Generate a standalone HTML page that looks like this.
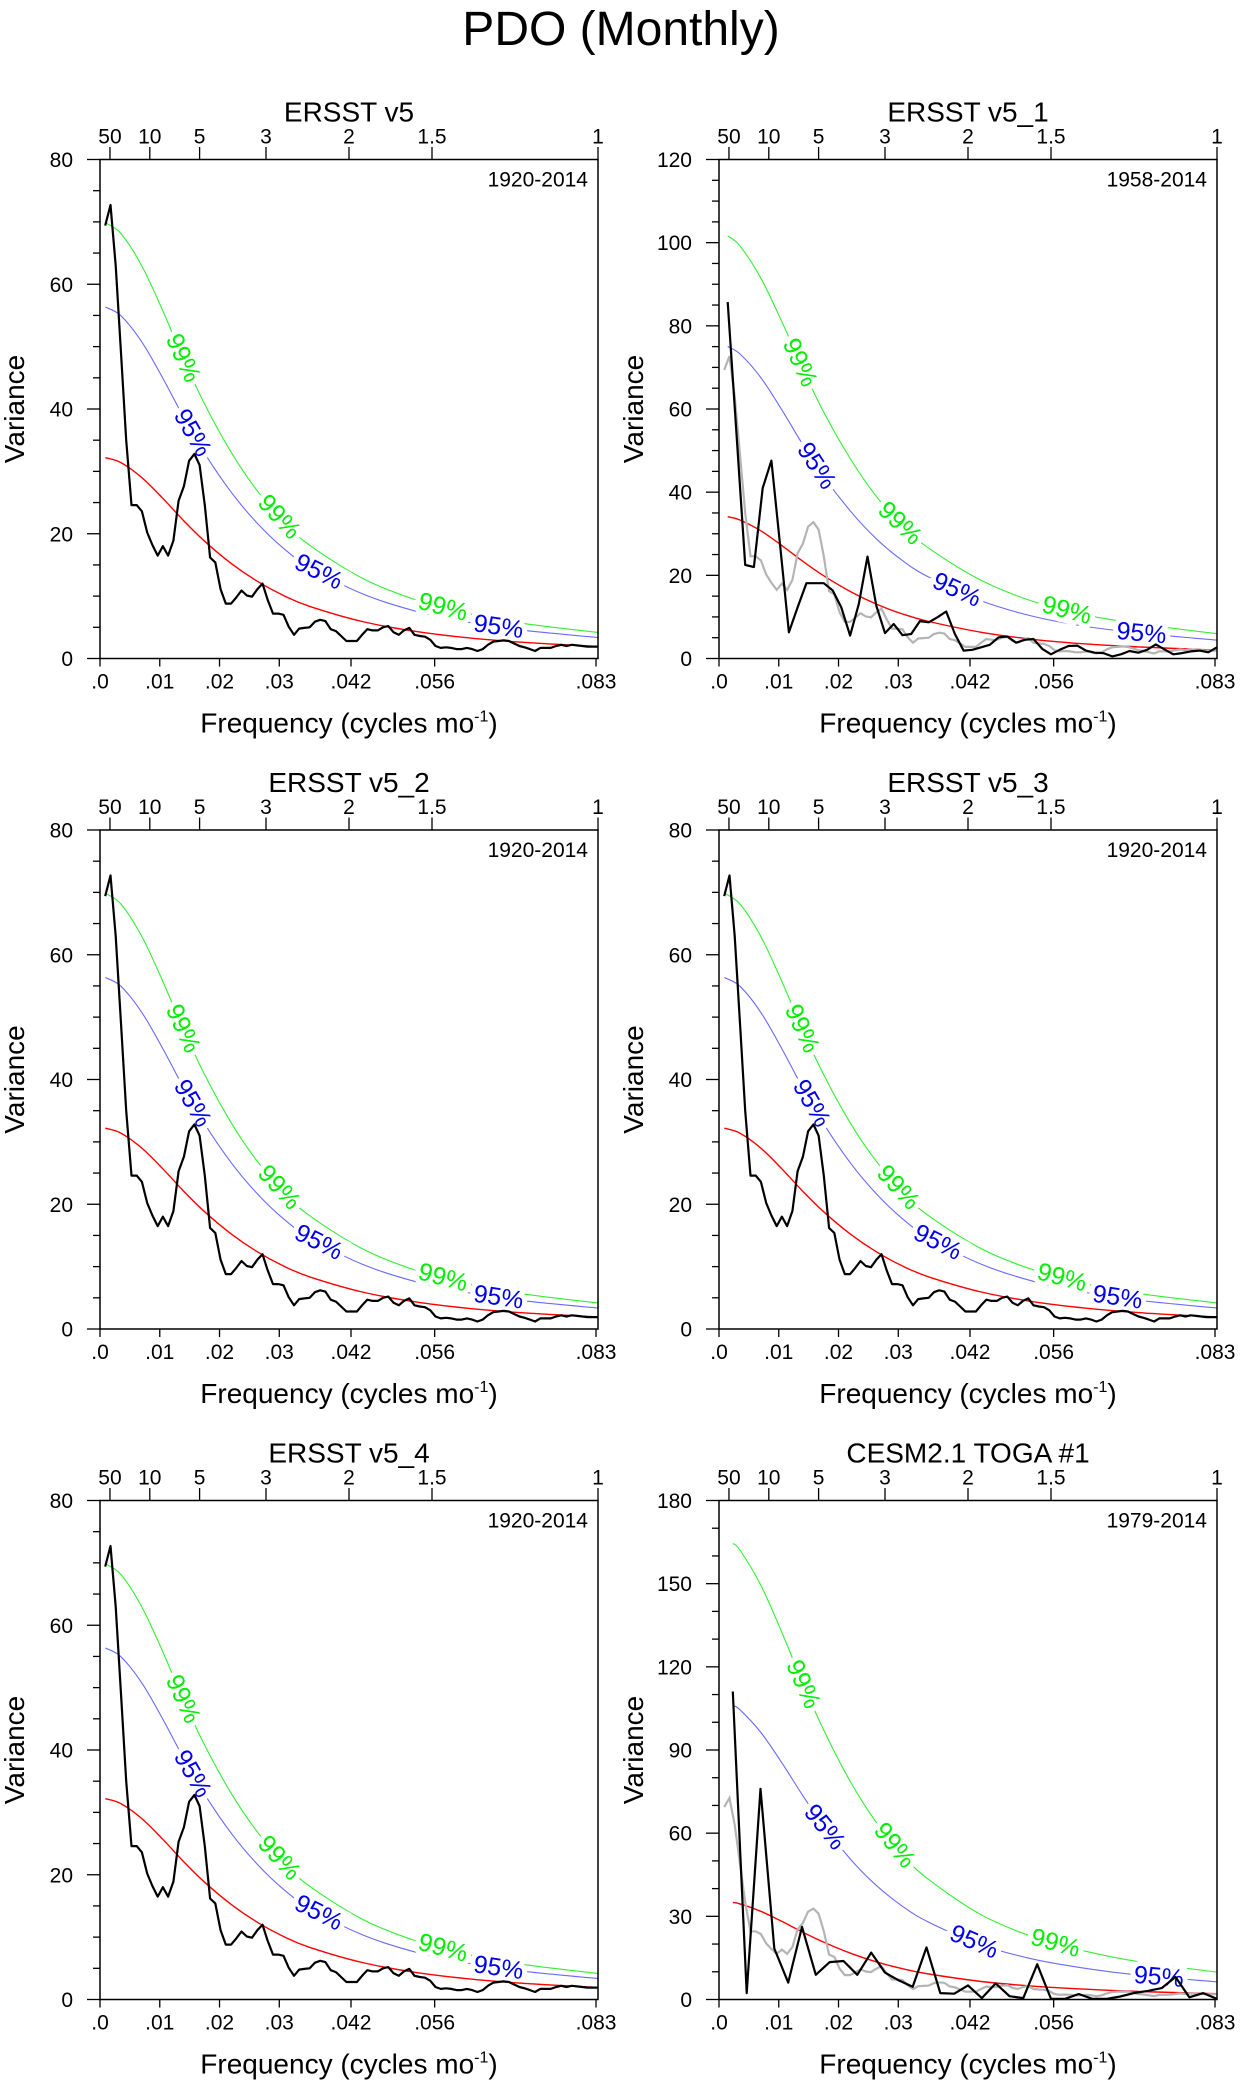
<!DOCTYPE html>
<html><head><meta charset="utf-8"><style>
html,body{margin:0;padding:0;background:#fff;}
svg{display:block;font-family:"Liberation Sans",Arial,sans-serif;}
</style></head><body>
<svg id="fig" width="1244" height="2086" viewBox="0 0 1244 2086">
<text x="621" y="45" text-anchor="middle" font-size="48">PDO (Monthly)</text>
</svg>
<script>
// ---- data ----
const ERSST_VALUES = [69.4,72.7,63,49,35,24.6,24.6,23.6,20.2,18.2,16.5,18.0,16.5,18.9,25.3,27.6,31.7,32.8,31,24.6,16.2,15.4,11.1,8.8,8.8,9.8,10.9,10.1,9.9,11.1,12.0,9.4,7.2,7.2,7.0,5.1,3.8,4.8,4.9,5.0,5.9,6.2,6.0,4.7,4.4,3.6,2.8,2.8,2.8,3.8,4.7,4.5,4.5,5.0,5.2,4.2,3.8,4.5,4.9,3.8,3.6,3.5,3.0,2.0,1.7,1.8,1.7,1.5,1.5,1.7,1.5,1.2,1.5,2.2,2.7,2.8,2.9,2.8,2.4,2.0,1.8,1.5,1.2,1.7,1.7,1.7,2.0,2.2,2.0,2.2,2.1,2.0,1.9,1.9,1.9];
const V51_VALUES = [85.7,54.0,22.5,22.0,41.0,47.6,27.0,6.3,12.3,18.1,18.1,18.1,16.4,12.3,5.5,13.1,24.5,12.7,6.1,8.3,5.6,5.9,9.0,8.7,9.9,11.3,5.9,1.9,2.1,2.7,3.3,5.1,5.3,3.8,4.5,4.7,2.3,1.0,2.1,3.0,3.1,1.9,1.4,1.3,0.5,1.0,1.8,1.4,2.1,3.4,2.2,1.0,1.3,1.7,1.9,1.5,2.7];
const TOGA_VALUES = [111.1,2.3,76.0,18.4,6.1,26.2,8.9,13.5,13.9,8.9,16.9,9.7,6.9,4.6,18.8,2.3,2.1,5.1,0.5,5.8,1.2,0.5,12.7,0.2,0.2,2.0,0.2,0.2,1.1,2.3,3.1,4.1,8.1,0.8,2.3,0.2];
const RED_FREQ_1920 = [0.00088,0.0035,0.007,0.0105,0.014,0.0175,0.022,0.0263,0.0307,0.0351,0.0439,0.0526,0.0614,0.0702,0.0833];
const RED_FREQ_1958 = [0.00146,0.0035,0.007,0.0105,0.014,0.0175,0.022,0.0263,0.0307,0.0351,0.0439,0.0526,0.0614,0.0702,0.0833];
const RED_FREQ_1979 = [0.00231,0.0035,0.007,0.0105,0.014,0.0175,0.022,0.0263,0.0307,0.0351,0.0439,0.0526,0.0614,0.0702,0.0833];
const RED_1920 = [32.2,31.4,29.0,25.7,22.1,18.8,15.2,12.4,10.1,8.36,5.93,4.37,3.34,2.63,1.92];
const RED_1958 = [34.1,33.3,30.7,27.2,23.4,19.9,16.1,13.1,10.7,8.9,6.3,4.6,3.5,2.8,2.0];
const RED_1979 = [35.0,34.5,31.8,28.2,24.3,20.7,16.7,13.6,11.1,9.2,6.5,4.8,3.7,2.9,2.1];
const SIG95_FACTOR = [1.75,2.2,3.03];
const SIG99_FACTOR = [2.17,2.98,4.7];
const LABEL99_FREQ = [[0.0139,0.030,0.0574],[0.01355,0.0303,0.0582],[0.0141,0.0294,0.0563]];
const LABEL95_FREQ = [[0.0155,0.0366,0.0667],[0.01634,0.0398,0.0707],[0.0177,0.0427,0.0736]];
const X_TICK_VALUES = [0,0.01,0.02,0.03,0.042,0.056,0.083];
const X_TICK_LABELS = [".0",".01",".02",".03",".042",".056",".083"];
const PERIOD_TICKS = [50,10,5,3,2,1.5,1];

const NS = "http://www.w3.org/2000/svg";
const svg = document.getElementById('fig');
const XMAX = 1/12;
const PW = 498, PH = 499;
const COLX = [100, 719];
const ROWY = [159.5, 830, 1500.5];
const TFS = 21;

const panels = [
 {title:"ERSST v5", yrs:"1920-2014", c:0, r:0, ymax:80, maj:20, min:5, main:ERSST_VALUES, n:95, gray:false, red:RED_1920, rf:RED_FREQ_1920, s:0},
 {title:"ERSST v5_1", yrs:"1958-2014", c:1, r:0, ymax:120, maj:20, min:5, main:V51_VALUES, n:57, gray:true, red:RED_1958, rf:RED_FREQ_1958, s:1},
 {title:"ERSST v5_2", yrs:"1920-2014", c:0, r:1, ymax:80, maj:20, min:5, main:ERSST_VALUES, n:95, gray:false, red:RED_1920, rf:RED_FREQ_1920, s:0},
 {title:"ERSST v5_3", yrs:"1920-2014", c:1, r:1, ymax:80, maj:20, min:5, main:ERSST_VALUES, n:95, gray:false, red:RED_1920, rf:RED_FREQ_1920, s:0},
 {title:"ERSST v5_4", yrs:"1920-2014", c:0, r:2, ymax:80, maj:20, min:5, main:ERSST_VALUES, n:95, gray:false, red:RED_1920, rf:RED_FREQ_1920, s:0},
 {title:"CESM2.1 TOGA #1", yrs:"1979-2014", c:1, r:2, ymax:180, maj:30, min:10, main:TOGA_VALUES, n:36, gray:true, red:RED_1979, rf:RED_FREQ_1979, s:2}
];

function mk(tag, attrs, parent){
  const e = document.createElementNS(NS, tag);
  for (const k in attrs) e.setAttribute(k, attrs[k]);
  (parent||svg).appendChild(e);
  return e;
}
function interp(fs, vs, f){
  if (f <= fs[0]) return vs[0];
  for (let i=1;i<fs.length;i++){ if (f <= fs[i]){ const t=(f-fs[i-1])/(fs[i]-fs[i-1]); return vs[i-1]+t*(vs[i]-vs[i-1]); } }
  return vs[vs.length-1];
}
function smoothPath(pts){
  let d = 'M'+pts[0][0].toFixed(1)+','+pts[0][1].toFixed(1);
  for (let i=0;i<pts.length-1;i++){
    const p0 = pts[Math.max(0,i-1)], p1 = pts[i], p2 = pts[i+1], p3 = pts[Math.min(pts.length-1,i+2)];
    const c1x = p1[0]+(p2[0]-p0[0])/6, c1y = p1[1]+(p2[1]-p0[1])/6;
    const c2x = p2[0]-(p3[0]-p1[0])/6, c2y = p2[1]-(p3[1]-p1[1])/6;
    d += ' C'+c1x.toFixed(1)+','+c1y.toFixed(1)+' '+c2x.toFixed(1)+','+c2y.toFixed(1)+' '+p2[0].toFixed(1)+','+p2[1].toFixed(1);
  }
  return d;
}

panels.forEach((p, pi) => {
  const L = COLX[p.c], T = ROWY[p.r], B = T+PH, R = L+PW;
  const X = f => L + f/XMAX*PW;
  const Y = v => B - v/p.ymax*PH;
  const g = mk('g', {});
  
  

  const title = mk('text', {x:L+PW/2, y:T-38, 'text-anchor':'middle', 'font-size':28}, g);
  title.textContent = p.title;
  
  

  const redP = p.rf.map((f,i)=>[X(f), Y(p.red[i])]);
  const b95P = p.rf.map((f,i)=>[X(f), Y(p.red[i]*SIG95_FACTOR[p.s])]);
  const g99P = p.rf.map((f,i)=>[X(f), Y(p.red[i]*SIG99_FACTOR[p.s])]);
  const l99 = mk('path', {d:smoothPath(g99P), fill:'none', stroke:'#33ee33', 'stroke-width':1.1}, g);
  
  
  const l95 = mk('path', {d:smoothPath(b95P), fill:'none', stroke:'#6a6aff', 'stroke-width':1.1}, g);
  
  

  function label(f, fac, txt, col, nm){
    const x = X(f), y = Y(interp(p.rf,p.red,f)*fac);
    const x2 = X(f+0.001), y2 = Y(interp(p.rf,p.red,f+0.001)*fac);
    const ang = Math.atan2(y2-y, x2-x)*180/Math.PI;
    const t = mk('text', {x:x, y:y, 'text-anchor':'middle', 'dominant-baseline':'central', 'font-size':25, fill:col, stroke:'#fff', 'stroke-width':10, 'paint-order':'stroke', transform:'rotate('+ang.toFixed(1)+' '+x.toFixed(1)+' '+y.toFixed(1)+')'}, g);
    t.textContent = txt;
    
    
  }
  LABEL99_FREQ[p.s].forEach(f => label(f, SIG99_FACTOR[p.s], '99%', '#00ee00', 'sig99-label'));
  LABEL95_FREQ[p.s].forEach(f => label(f, SIG95_FACTOR[p.s], '95%', '#0000ee', 'sig95-label'));

  const lr = mk('path', {d:smoothPath(redP), fill:'none', stroke:'#ff0000', 'stroke-width':1.4}, g);
  
  

  if (p.gray){
    const gp = ERSST_VALUES.map((v,i)=>X((i+1)/(12*95)).toFixed(1)+','+Y(v).toFixed(1)).join(' ');
    const lg = mk('polyline', {points:gp, fill:'none', stroke:'#b4b4b4', 'stroke-width':2.2}, g);
    
    
  }
  const mp = p.main.map((v,i)=>X((i+1)/(12*p.n)).toFixed(1)+','+Y(v).toFixed(1)).join(' ');
  const lm = mk('polyline', {points:mp, fill:'none', stroke:'#000', 'stroke-width':2.2, 'stroke-linejoin':'round'}, g);
  
  

  const fr = mk('rect', {x:L, y:T, width:PW, height:PH, fill:'none', stroke:'#000', 'stroke-width':1.5}, g);
  
  

  for (let v=0; v<=p.ymax+1e-9; v+=p.min){
    const isMaj = Math.abs(v/p.maj - Math.round(v/p.maj)) < 1e-6;
    const tk = mk('line', {x1:L, x2:L-(isMaj?13:7), y1:Y(v), y2:Y(v), stroke:'#000', 'stroke-width':1.3}, g);
    
    
    if (isMaj){
      const tl = mk('text', {x:L-27, y:Y(v)+7.5, 'text-anchor':'end', 'font-size':TFS}, g);
      tl.textContent = String(v);
      
      
    }
  }
  X_TICK_VALUES.forEach((f,i) => {
    const fx = Math.min(X(f), R);
    const tk = mk('line', {x1:fx, x2:fx, y1:B, y2:B+8, stroke:'#000', 'stroke-width':1.3}, g);
    
    
    const tl = mk('text', {x:fx, y:B+30, 'text-anchor':'middle', 'font-size':TFS}, g);
    tl.textContent = X_TICK_LABELS[i];
    
    
  });
  PERIOD_TICKS.forEach(P => {
    const fx = X(1/(12*P));
    const tk = mk('line', {x1:fx, x2:fx, y1:T, y2:T-12.5, stroke:'#000', 'stroke-width':1.3}, g);
    
    
    const tl = mk('text', {x:fx, y:T-16, 'text-anchor':'middle', 'font-size':TFS}, g);
    tl.textContent = String(P);
    
    
  });
  const yr = mk('text', {x:R-10, y:T+27, 'text-anchor':'end', 'font-size':TFS}, g);
  yr.textContent = p.yrs;
  
  

  const xt = mk('text', {x:L+PW/2, y:B+74, 'text-anchor':'middle', 'font-size':28}, g);
  xt.innerHTML = 'Frequency (cycles mo<tspan dy="-11" font-size="16">-1</tspan><tspan dy="11">)</tspan>';
  
  

  const yt = mk('text', {x:L-76, y:T+PH/2, 'text-anchor':'middle', 'font-size':28, transform:'rotate(-90 '+(L-76)+' '+(T+PH/2)+')'}, g);
  yt.textContent = 'Variance';
  
  
});
</script>
</body></html>
